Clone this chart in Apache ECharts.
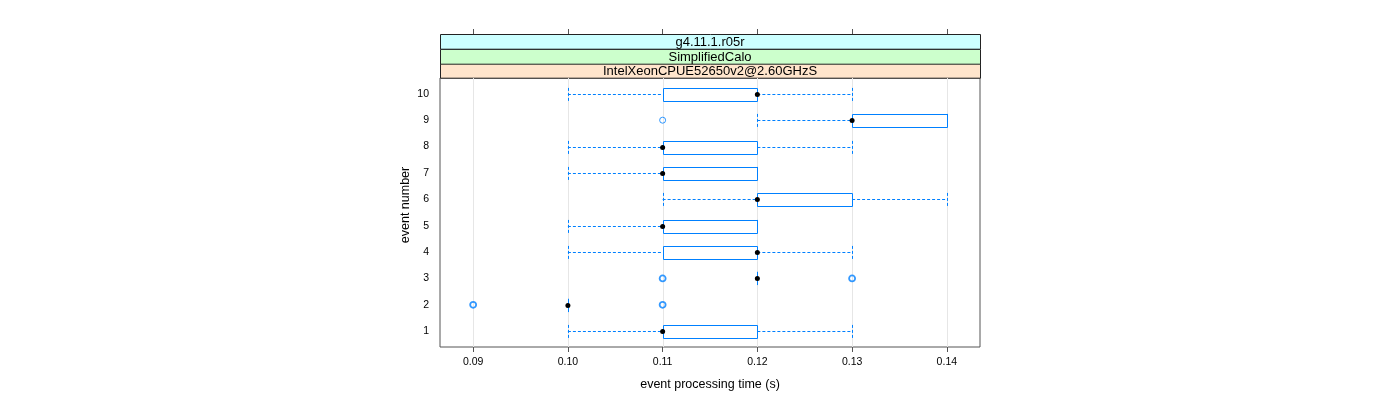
<!DOCTYPE html>
<html>
<head>
<meta charset="utf-8">
<script src="https://cdn.jsdelivr.net/npm/echarts@6/dist/echarts.min.js"></script>
<style>
html,body{margin:0;padding:0;background:#fff;}
#chart{width:1400px;height:400px;}
</style>
</head>
<body>
<div id="chart"></div>
<script>
// ---- data ----
const events = [1, 2, 3, 4, 5, 6, 7, 8, 9, 10];
const lowerWhisker = [0.10, 0.10, 0.12, 0.10, 0.10, 0.11, 0.10, 0.10, 0.12, 0.10];
const q1Values     = [0.11, 0.10, 0.12, 0.11, 0.11, 0.12, 0.11, 0.11, 0.13, 0.11];
const medianValues = [0.11, 0.10, 0.12, 0.12, 0.11, 0.12, 0.11, 0.11, 0.13, 0.12];
const q3Values     = [0.12, 0.10, 0.12, 0.12, 0.12, 0.13, 0.12, 0.12, 0.14, 0.12];
const upperWhisker = [0.13, 0.10, 0.12, 0.13, 0.12, 0.14, 0.12, 0.13, 0.14, 0.13];
const outlierEvent = [2, 2, 2, 2, 3, 3, 3, 3, 9];
const outlierTime  = [0.09, 0.09, 0.11, 0.11, 0.11, 0.11, 0.13, 0.13, 0.11];
const xTicks = [0.09, 0.10, 0.11, 0.12, 0.13, 0.14];
const yTicks = [1, 2, 3, 4, 5, 6, 7, 8, 9, 10];
const stripLabels = ['IntelXeonCPUE52650v2@2.60GHzS', 'SimplifiedCalo', 'g4.11.1.r05r']; // bottom to top
const stripColors = ['#ffe5cc', '#ccffcc', '#ccffff'];
const xTitle = 'event processing time (s)';
const yTitle = 'event number';

// ---- layout ----
const FONT = '"Liberation Sans", Arial, sans-serif';
const G = {left: 440, right: 420, top: 78, bottom: 53};
const panelX = G.left, panelW = 1400 - G.left - G.right;
const stripH = 14.7;
const BLUE = '#0080ff';

const boxData = events.map((e, i) => [e, lowerWhisker[i], q1Values[i], medianValues[i], q3Values[i], upperWhisker[i]]);
// overplotted outliers (same value repeated) render bolder
const outlierMap = {};
outlierEvent.forEach((e, i) => {
  const k = e + '|' + outlierTime[i];
  if (!outlierMap[k]) outlierMap[k] = {value: [outlierTime[i], e], n: 0};
  outlierMap[k].n += 1;
});
const outlierData = Object.values(outlierMap).map(o => ({
  value: o.value,
  itemStyle: {borderWidth: o.n > 1 ? 1.8 : 1}
}));

const graphics = [];
stripLabels.forEach((lab, i) => {
  const y = G.top - (i + 1) * stripH;
  graphics.push({
    type: 'rect', silent: true,
    shape: {x: panelX + 0.5, y: Math.round(y) + 0.5, width: panelW, height: stripH},
    style: {fill: stripColors[i], stroke: '#222', lineWidth: 1}
  });
  graphics.push({
    type: 'text', silent: true,
    style: {text: lab, x: panelX + panelW / 2, y: Math.round(y) + stripH / 2 + 1,
            align: 'center', verticalAlign: 'middle', font: '13px ' + FONT, fill: '#000'}
  });
});
graphics.push({
  type: 'text', silent: true, rotation: Math.PI / 2,
  x: 406, y: 205,
  style: {text: yTitle, align: 'center', verticalAlign: 'middle', font: '12.5px ' + FONT, fill: '#000'}
});

const chart = echarts.init(document.getElementById('chart'), null, {renderer: 'canvas'});
chart.setOption({
  animation: false,
  backgroundColor: '#fff',
  grid: {left: G.left, right: G.right, top: G.top, bottom: G.bottom, show: true,
         borderColor: '#555', borderWidth: 1, backgroundColor: 'transparent'},
  xAxis: [{
    type: 'value', min: 0.0865, max: 0.1435, position: 'bottom',
    name: xTitle, nameLocation: 'middle', nameGap: 31,
    nameTextStyle: {fontFamily: FONT, fontSize: 12.5, color: '#000'},
    axisLine: {show: false},
    axisTick: {show: true, length: 5, inside: false, customValues: xTicks, lineStyle: {color: '#555'}},
    axisLabel: {show: true, customValues: xTicks, margin: 10, fontFamily: FONT, fontSize: 10.5, color: '#000',
                formatter: v => v.toFixed(2)},
    splitLine: {show: false}
  }, {
    type: 'value', min: 0.0865, max: 0.1435, position: 'top', offset: 44,
    axisLine: {show: false},
    axisTick: {show: true, length: 5, inside: false, customValues: xTicks, lineStyle: {color: '#555'}},
    axisLabel: {show: false},
    splitLine: {show: false}
  }],
  yAxis: {
    type: 'value', min: 0.4, max: 10.6,
    axisLine: {show: false},
    axisTick: {show: false},
    axisLabel: {show: true, customValues: yTicks, margin: 11, fontFamily: FONT, fontSize: 10.5, color: '#000'},
    splitLine: {show: false}
  },
  graphic: graphics,
  series: [{
    type: 'custom', name: 'grid', xAxisIndex: 0, silent: true, z: 1,
    data: xTicks.map(v => [v]),
    encode: {x: 0},
    renderItem: (params, api) => {
      const v = api.value(0);
      const a = api.coord([v, 0.4]), b = api.coord([v, 10.6]);
      const x = Math.round(a[0]) + 0.5;
      return {type: 'line', shape: {x1: x, y1: a[1], x2: x, y2: b[1]},
              style: {stroke: '#e6e6e6', lineWidth: 1}};
    }
  }, {
    type: 'custom', name: 'boxes', xAxisIndex: 0, silent: true, z: 2,
    data: boxData,
    encode: {y: 0, x: [1, 2, 3, 4, 5]},
    renderItem: (params, api) => {
      const ev = api.value(0);
      const lw = api.value(1), q1 = api.value(2), med = api.value(3), q3 = api.value(4), hw = api.value(5);
      const half = api.size([0, 0.25])[1];
      const pLw = api.coord([lw, ev]), pQ1 = api.coord([q1, ev]), pMed = api.coord([med, ev]);
      const pQ3 = api.coord([q3, ev]), pHw = api.coord([hw, ev]);
      const y = Math.round(pMed[1]) + 0.5;
      const dash = {stroke: BLUE, lineWidth: 1, lineDash: [3, 2]};
      const children = [];
      if (lw < q1) children.push({type: 'line', shape: {x1: pLw[0], y1: y, x2: pQ1[0], y2: y}, style: dash});
      if (hw > q3) children.push({type: 'line', shape: {x1: pQ3[0], y1: y, x2: pHw[0], y2: y}, style: dash});
      children.push({type: 'line', shape: {x1: Math.round(pLw[0]) + 0.5, y1: y - half, x2: Math.round(pLw[0]) + 0.5, y2: y + half}, style: dash});
      children.push({type: 'line', shape: {x1: Math.round(pHw[0]) + 0.5, y1: y - half, x2: Math.round(pHw[0]) + 0.5, y2: y + half}, style: dash});
      const x1 = Math.round(pQ1[0]) + 0.5, x2 = Math.round(pQ3[0]) + 0.5;
      if (x2 - x1 < 0.5) {
        children.push({type: 'line', shape: {x1: x1, y1: y - half, x2: x1, y2: y + half}, style: {stroke: BLUE, lineWidth: 1}});
      } else {
        children.push({type: 'rect', shape: {x: x1, y: Math.round(y - half) + 0.5, width: x2 - x1, height: Math.round(2 * half)},
                       style: {fill: 'transparent', stroke: BLUE, lineWidth: 1}});
      }
      children.push({type: 'circle', shape: {cx: pMed[0], cy: y, r: 2.5}, style: {fill: '#000'}});
      return {type: 'group', children: children};
    }
  }, {
    type: 'scatter', name: 'outliers', xAxisIndex: 0, silent: true, z: 3,
    data: outlierData,
    symbol: 'circle', symbolSize: 6,
    itemStyle: {color: 'transparent', borderColor: BLUE, borderWidth: 1}
  }]
});
</script>
</body>
</html>
